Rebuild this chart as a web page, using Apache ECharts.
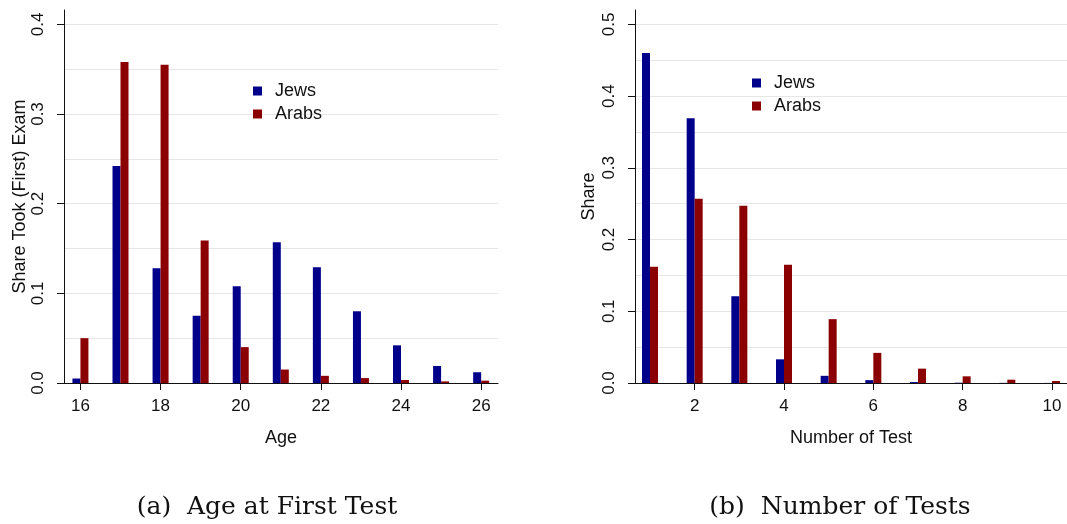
<!DOCTYPE html>
<html>
<head>
<meta charset="utf-8">
<script src="https://cdn.jsdelivr.net/npm/echarts@6/dist/echarts.min.js"></script>
<style>
  html, body { margin: 0; padding: 0; background: #ffffff; }
  #chart { width: 1067px; height: 524px; }
</style>
</head>
<body>
<div id="chart"></div>
<script>
// Panel (a): share taking the (first) exam at each age
const ages = [16, 17, 18, 19, 20, 21, 22, 23, 24, 25, 26];
const ageJews = [0.005, 0.242, 0.128, 0.075, 0.108, 0.157, 0.129, 0.080, 0.042, 0.019, 0.012];
const ageArabs = [0.050, 0.358, 0.355, 0.159, 0.040, 0.015, 0.008, 0.0055, 0.0033, 0.0018, 0.0026];

// Panel (b): share by number of tests taken
const testCounts = [1, 2, 3, 4, 5, 6, 7, 8, 9, 10];
const testJews = [0.460, 0.369, 0.121, 0.033, 0.010, 0.004, 0.0013, 0.0004, 0.0002, 0.0001];
const testArabs = [0.162, 0.257, 0.247, 0.165, 0.089, 0.042, 0.020, 0.0093, 0.0046, 0.0028];

// Tick labels
const ageTicks = [16, 18, 20, 22, 24, 26];
const testTicks = [2, 4, 6, 8, 10];
const shareTicksA = [0, 0.1, 0.2, 0.3, 0.4];
const shareTicksB = [0, 0.1, 0.2, 0.3, 0.4, 0.5];

const groupNames = ['Jews', 'Arabs'];
const captions = ['(a)  Age at First Test', '(b)  Number of Tests'];

const SANS = '"Liberation Sans", Arial, sans-serif';
const SERIF = '"DejaVu Serif", serif';
const INK = '#111111';
const BLUE = '#00008b';
const RED = '#8b0000';

function xAxisCfg(grid, min, max, ticks, name) {
  return {
    type: 'value', gridIndex: grid, min: min, max: max,
    axisLine: { show: true, onZero: false, lineStyle: { color: INK, width: 1 } },
    axisTick: { show: true, customValues: ticks, length: 7, lineStyle: { color: INK } },
    axisLabel: { customValues: ticks, fontSize: 17, fontFamily: SANS, color: INK, margin: 15 },
    splitLine: { show: false },
    name: name, nameLocation: 'middle', nameGap: 46,
    nameTextStyle: { fontSize: 18, fontFamily: SANS, color: INK }
  };
}

// Main share axis: line, ticks and labels every 0.1
function yAxisCfg(grid, max, ticks, name, nameGap) {
  return {
    type: 'value', gridIndex: grid, min: 0, max: max, interval: 0.05, position: 'left',
    axisLine: { show: true, onZero: false, lineStyle: { color: INK, width: 1 } },
    axisTick: { show: true, customValues: ticks, length: 7, lineStyle: { color: INK } },
    axisLabel: {
      customValues: ticks, rotate: 90, fontSize: 17, fontFamily: SANS, color: INK, margin: 17,
      formatter: function (v) { return v.toFixed(1); }
    },
    splitLine: { show: false },
    name: name, nameLocation: 'middle', nameGap: nameGap,
    nameTextStyle: { fontSize: 18, fontFamily: SANS, color: INK }
  };
}

// Companion axis on the same scale that only draws the light grid every 0.05
function gridLineAxisCfg(grid, max) {
  return {
    type: 'value', gridIndex: grid, min: 0, max: max, interval: 0.05, position: 'right',
    axisLine: { show: false }, axisTick: { show: false }, axisLabel: { show: false },
    splitLine: { show: true, showMaxLine: false, lineStyle: { color: '#e6e6e6', width: 1 } }
  };
}

function barSeries(name, grid, xs, ys, color) {
  return {
    type: 'bar', name: name, xAxisIndex: grid, yAxisIndex: grid,
    data: xs.map(function (x, i) { return [x, ys[i]]; }),
    barWidth: 8, barGap: '0%',
    itemStyle: { color: color },
    emphasis: { disabled: true },
    animation: false
  };
}

function legendCfg(left, top) {
  return {
    data: groupNames, orient: 'vertical', left: left, top: top, padding: 0,
    icon: 'rect', itemWidth: 9, itemHeight: 9, itemGap: 5,
    selectedMode: false,
    textStyle: { fontSize: 18, fontFamily: SANS, color: INK, padding: [0, 0, 0, 8] }
  };
}

function captionCfg(text, centerX) {
  return {
    text: text, left: centerX, top: 490, textAlign: 'center',
    textStyle: { fontFamily: SERIF, fontSize: 25, fontWeight: 'normal', color: INK }
  };
}

const chart = echarts.init(document.getElementById('chart'), null, { renderer: 'canvas' });
chart.setOption({
  animation: false,
  backgroundColor: '#ffffff',
  title: [captionCfg(captions[0], 262), captionCfg(captions[1], 835)],
  legend: [legendCfg(253, 82), legendCfg(752, 74)],
  grid: [
    { left: 64, right: 569, top: 10, bottom: 141 },
    { left: 635, right: 0, top: 10, bottom: 141 }
  ],
  xAxis: [
    xAxisCfg(0, 15.59, 26.42, ageTicks, 'Age'),
    xAxisCfg(1, 0.664, 10.336, testTicks, 'Number of Test')
  ],
  yAxis: [
    yAxisCfg(0, 0.416, shareTicksA, 'Share Took (First) Exam', 35),
    yAxisCfg(1, 0.52, shareTicksB, 'Share', 37),
    gridLineAxisCfg(0, 0.416),
    gridLineAxisCfg(1, 0.52)
  ],
  series: [
    barSeries(groupNames[0], 0, ages, ageJews, BLUE),
    barSeries(groupNames[1], 0, ages, ageArabs, RED),
    barSeries(groupNames[0], 1, testCounts, testJews, BLUE),
    barSeries(groupNames[1], 1, testCounts, testArabs, RED)
  ]
});
</script>
</body>
</html>
